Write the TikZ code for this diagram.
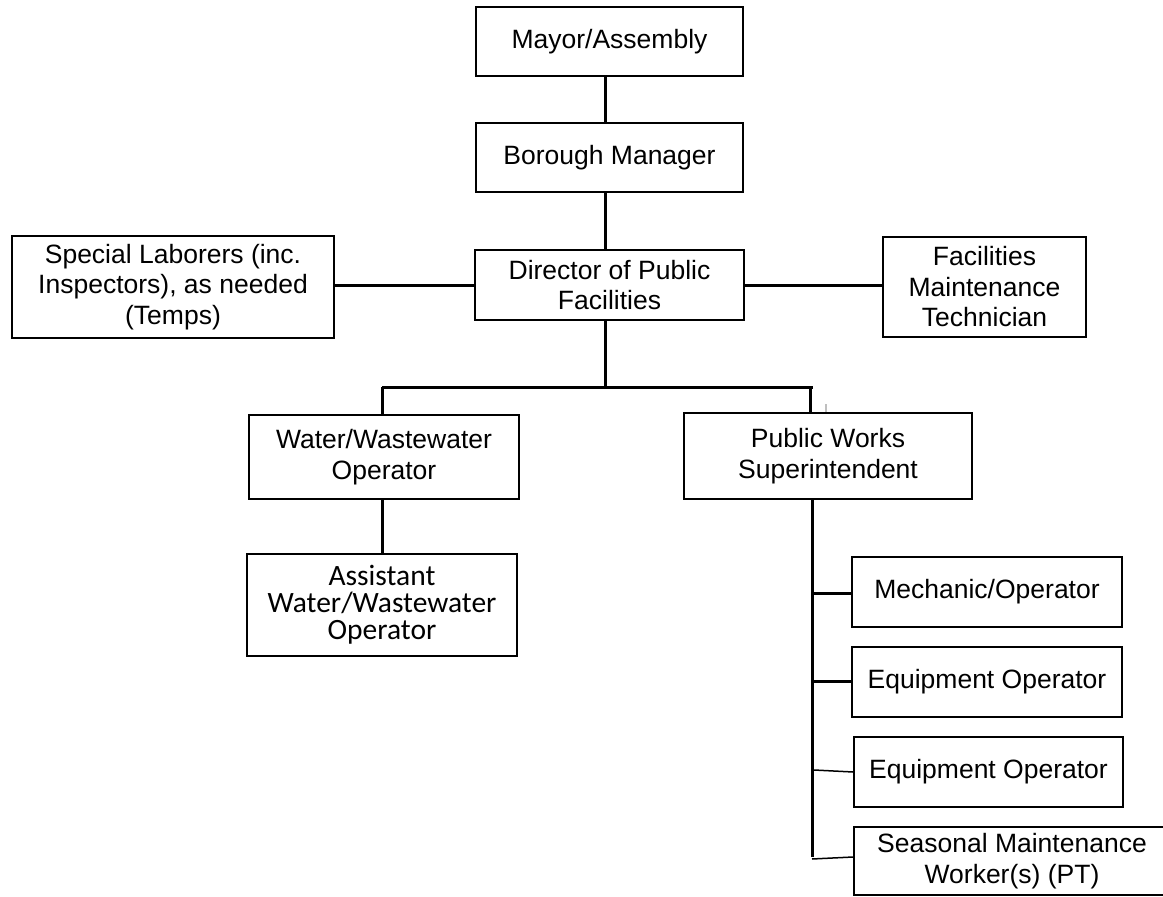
\documentclass[tikz,border=0pt]{standalone}
\usepackage{fontspec}
\setmainfont{Liberation Sans}
\newfontfamily\calib{Carlito}
\begin{document}
\begin{tikzpicture}[x=1pt,y=-1pt,
  box/.style={draw=black,line width=1.8pt,rectangle,inner sep=0pt,align=center,
    font=\fontsize{26.5}{30.5}\selectfont},
  link/.style={line width=3pt},
  thinlink/.style={line width=1.5pt}]
\useasboundingbox (0,0) rectangle (1163,897);
\clip (0,0) rectangle (1163,897);

% boxes
\node[box,minimum width=267pt,minimum height=69pt] (mayor) at (609.5,41.5) {Mayor/Assembly};
\node[box,minimum width=267pt,minimum height=69pt] (borough) at (609.5,157.5) {Borough Manager};
\node[box,minimum width=269pt,minimum height=70pt] (director) at (609.5,285) {Director of Public\\Facilities};
\node[box,minimum width=322pt,minimum height=102pt] (special) at (173,287) {Special Laborers (inc.\\Inspectors), as needed\\(Temps)};
\node[box,minimum width=203pt,minimum height=100pt] (facil) at (984.5,287) {Facilities\\Maintenance\\Technician};
\node[box,minimum width=270pt,minimum height=84pt] (water) at (384,457) {Water/Wastewater\\Operator};
\node[box,minimum width=288pt,minimum height=86pt] (pw) at (828,456) {Public Works\\Superintendent};
\node[box,minimum width=270pt,minimum height=102pt,font=\calib\fontsize{29.5}{27}\selectfont] (assist) at (382,605) {Assistant\\Water/Wastewater\\Operator};
\node[box,minimum width=270pt,minimum height=70pt] (mech) at (987,592) {Mechanic/Operator};
\node[box,minimum width=270pt,minimum height=70pt] (equipA) at (987,682) {Equipment Operator};
\node[box,minimum width=269pt,minimum height=70pt] (equipB) at (988.5,772) {Equipment Operator};
\node[box,minimum width=316pt,minimum height=68pt] (seasonal) at (1012,861) {Seasonal Maintenance\\Worker(s) (PT)};

% junction points of the tree
\coordinate (barL) at (382,387);
\coordinate (barR) at (813,387);
\coordinate (trunk) at (605,387);
\coordinate (pwTop) at (810,389);
\coordinate (pwEnd) at (812,857);
\coordinate (tick) at (826,404);

% connectors
\draw[link] ([xshift=-4.5pt]mayor.south) -- ([xshift=-4.5pt]borough.north);
\draw[link] ([xshift=-4.5pt]borough.south) -- ([xshift=-4.5pt]director.north);
\draw[link] (special.east |- 0,285) -- (director.west |- 0,285);
\draw[link] (director.east |- 0,285) -- (facil.west |- 0,285);
\draw[link] ([xshift=-4.5pt]director.south) -- (trunk);
\draw[link] (barL) -- (barR);
\draw[link] (barL) -- (barL |- water.north);
\draw[link] (pwTop) -- (pwTop |- pw.north);
\draw[gray!50,line width=2.7pt] (tick) -- (tick |- pw.north);
\draw[link] (382,0 |- water.south) -- (382,0 |- assist.north);
\draw[link] (812,0 |- pw.south) -- (pwEnd);
\draw[link] (812,593) -- (mech.west |- 0,593);
\draw[link] (812,681) -- (equipA.west |- 0,681);
\draw[thinlink] (814,770) -- (equipB.west |- 0,772);
\draw[thinlink] (812,859) -- (seasonal.west |- 0,857);
\end{tikzpicture}
\end{document}
